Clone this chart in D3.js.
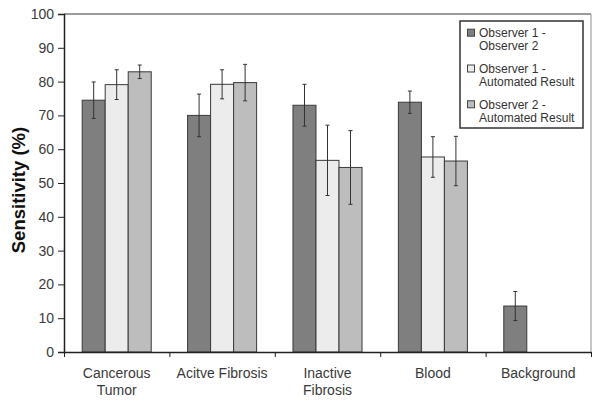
<!DOCTYPE html>
<html><head><meta charset="utf-8">
<script src="https://cdn.jsdelivr.net/npm/d3@7"></script>
<style>body{margin:0;background:#fff}svg{display:block;font-family:"Liberation Sans",Arial,sans-serif}</style>
</head><body><svg id="c" width="600" height="404"></svg>
<script>
const categories = ["Cancerous Tumor", "Acitve Fibrosis", "Inactive Fibrosis", "Blood", "Background"];
const categoryLines = [["Cancerous", "Tumor"], ["Acitve Fibrosis"], ["Inactive", "Fibrosis"], ["Blood"], ["Background"]];
const seriesNames = ["Observer 1 - Observer 2", "Observer 1 - Automated Result", "Observer 2 - Automated Result"];
const legendLines = [["Observer 1 -", "Observer 2"], ["Observer 1 -", "Automated Result"], ["Observer 2 -", "Automated Result"]];
const obs1Obs2 = [74.5, 70.0, 73.0, 73.9, 13.6];
const obs1Auto = [79.1, 79.2, 56.7, 57.7, null];
const obs2Auto = [82.9, 79.7, 54.6, 56.5, null];
const err1_2 = [5.4, 6.3, 6.2, 3.3, 4.3];
const err1Auto = [4.4, 4.3, 10.4, 6.0, null];
const err2Auto = [2.0, 5.4, 10.9, 7.3, null];
const yTicks = [0, 10, 20, 30, 40, 50, 60, 70, 80, 90, 100];

const colors = ["#7f7f7f", "#ececec", "#bdbdbd"];
const values = [obs1Obs2, obs1Auto, obs2Auto];
const errors = [err1_2, err1Auto, err2Auto];

const svg = d3.select("#c");
const L = 64, R = 591, T = 14, B = 352;
const x0 = d3.scaleBand().domain(categories).range([L, R]).padding(0);
const x1 = d3.scaleBand().domain(seriesNames).range([0, x0.bandwidth()]).paddingInner(0).paddingOuter(0.79);
const y = d3.scaleLinear().domain([0, 100]).range([B, T]);

// frame top & right
svg.append("line").attr("x1", L).attr("x2", R).attr("y1", T).attr("y2", T).attr("stroke", "#7a7a7a").attr("stroke-width", 1.5);
svg.append("line").attr("x1", R).attr("x2", R).attr("y1", T).attr("y2", B).attr("stroke", "#a0a0a0").attr("stroke-width", 1.2);

const data = [];
categories.forEach((c, i) => seriesNames.forEach((s, j) => {
  if (values[j][i] != null) data.push({c, s, j, v: values[j][i], e: errors[j][i]});
}));

svg.append("g").selectAll("rect").data(data).join("rect")
  .attr("x", d => x0(d.c) + x1(d.s))
  .attr("width", x1.bandwidth())
  .attr("y", d => y(d.v))
  .attr("height", d => y(0) - y(d.v))
  .attr("fill", d => colors[d.j])
  .attr("stroke", "#3a3a3a").attr("stroke-width", 1);

const eg = svg.append("g").attr("stroke", "#333").attr("stroke-width", 1);
data.forEach(d => {
  const cx = x0(d.c) + x1(d.s) + x1.bandwidth() / 2;
  eg.append("line").attr("x1", cx).attr("x2", cx).attr("y1", y(d.v + d.e)).attr("y2", y(d.v - d.e));
  eg.append("line").attr("x1", cx - 2).attr("x2", cx + 2).attr("y1", y(d.v + d.e)).attr("y2", y(d.v + d.e));
  eg.append("line").attr("x1", cx - 2).attr("x2", cx + 2).attr("y1", y(d.v - d.e)).attr("y2", y(d.v - d.e));
});

// y axis
const ya = svg.append("g").attr("transform", `translate(${L},0)`)
  .call(d3.axisLeft(y).tickValues(yTicks).tickSize(6).tickPadding(4));
ya.select(".domain").attr("stroke", "#222").attr("stroke-width", 1.5);
ya.selectAll(".tick line").attr("stroke", "#222");
ya.selectAll(".tick text").attr("font-size", 14).attr("fill", "#3a3a3a").attr("font-family", "Liberation Sans, Arial, sans-serif");

// x axis
const xb = d3.scaleLinear().domain([0, categories.length]).range([L, R]);
const xa = svg.append("g").attr("transform", `translate(0,${B})`)
  .call(d3.axisBottom(xb).tickValues(d3.range(categories.length + 1)).tickFormat("").tickSize(5).tickSizeOuter(0));
xa.select(".domain").attr("stroke", "#222").attr("stroke-width", 1.5);
xa.selectAll(".tick line").attr("stroke", "#222");

categories.forEach((c, i) => {
  const t = svg.append("text").attr("x", x0(c) + x0.bandwidth() / 2).attr("y", 378)
    .attr("text-anchor", "middle").attr("font-size", 14).attr("fill", "#3a3a3a");
  categoryLines[i].forEach((ln, k) => t.append("tspan").attr("x", x0(c) + x0.bandwidth() / 2).attr("dy", k ? 17 : 0).text(ln));
});

svg.append("text").attr("transform", "translate(25,190) rotate(-90)")
  .attr("text-anchor", "middle").attr("font-size", 18.5).attr("font-weight", "bold").attr("fill", "#111")
  .text("Sensitivity (%)");

// legend
const lg = svg.append("g");
lg.append("rect").attr("x", 460).attr("y", 21).attr("width", 123).attr("height", 107)
  .attr("fill", "#fff").attr("stroke", "#333").attr("stroke-width", 1.5);
seriesNames.forEach((s, j) => {
  const cy = 32.7 + j * 35.8;
  lg.append("rect").attr("x", 467.5).attr("y", cy - 3.5).attr("width", 7).attr("height", 7)
    .attr("fill", colors[j]).attr("stroke", "#444").attr("stroke-width", 1);
  const t = lg.append("text").attr("x", 479).attr("y", cy + 4.3).attr("font-size", 12).attr("fill", "#333");
  legendLines[j].forEach((ln, k) => t.append("tspan").attr("x", 479).attr("dy", k ? 13.3 : 0).text(ln));
});
</script></body></html>
